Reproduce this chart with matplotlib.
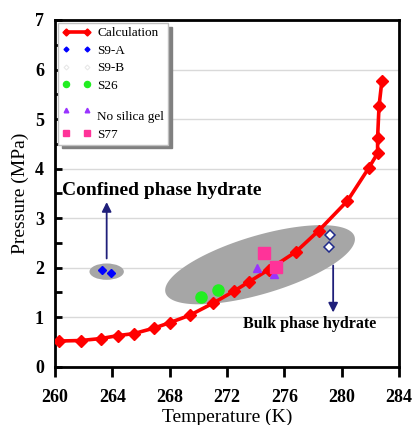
import numpy as np
import matplotlib
matplotlib.use('Agg')
import matplotlib.pyplot as plt
from matplotlib.patches import Ellipse, Polygon
from matplotlib.lines import Line2D

plt.rcParams['font.family'] = ['Liberation Serif', 'DejaVu Serif']

# calculated equilibrium curve
calc_T = [260.3, 261.8, 263.2, 264.4, 265.5, 266.9, 268.0, 269.4, 271.0, 272.5,
          273.5, 274.9, 276.8, 278.4, 280.4, 281.9, 282.5, 282.5, 282.6, 282.8]
calc_P = [0.52, 0.53, 0.57, 0.63, 0.67, 0.78, 0.89, 1.04, 1.28, 1.53,
          1.71, 1.96, 2.32, 2.75, 3.35, 4.02, 4.31, 4.62, 5.26, 5.77]

# experimental points
s9a_T = [263.3, 263.9]
s9a_P = [1.96, 1.90]
s9b_T = [279.2, 279.1]
s9b_P = [2.65, 2.41]
s26_T = [270.2, 271.4]
s26_P = [1.40, 1.55]
nsg_T = [274.1, 275.3]
nsg_P = [2.00, 1.88]
s77_T = [274.6, 275.4]
s77_P = [2.30, 2.02]

xticks = [260, 264, 268, 272, 276, 280, 284]
yticks = [0, 1, 2, 3, 4, 5, 6, 7]

fig = plt.figure(figsize=(4.14, 4.25), dpi=100)
ax = fig.add_axes([0.133, 0.137, 0.831, 0.816])

ax.set_xlim(260, 284)
ax.set_ylim(0, 7)

# grey regions behind the points
big = np.linspace(0, 2*np.pi, 200)
cT, cP = 274.3, 2.06
uT, uP = 6.6, 0.56
vT, vP = 0.50, -0.57
ell_pts = np.column_stack([cT + uT*np.cos(big) + vT*np.sin(big),
                           cP + uP*np.cos(big) + vP*np.sin(big)])
ax.add_patch(Polygon(ell_pts, closed=True, facecolor='#A6A6A6', edgecolor='none', zorder=2))
ax.add_patch(Ellipse((263.6, 1.92), 2.4, 0.33, facecolor='#A6A6A6', edgecolor='none', zorder=2))

ax.grid(True, axis='y', color='#D9D9D9', linewidth=1, zorder=0)
ax.set_axisbelow(True)

calc, = ax.plot(calc_T, calc_P, color='#FF0000', lw=2.6, marker='D', ms=6.5,
                label='Calculation', zorder=4)
a, = ax.plot(s9a_T, s9a_P, ls='none', marker='D', ms=4.5, color='#0000FF', label='S9-A', zorder=5)
ax.plot(s9b_T, s9b_P, ls='none', marker='D', ms=5.5, mfc='white', mec='#1F2A8A', mew=1.1, zorder=5)
g, = ax.plot(s26_T, s26_P, ls='none', marker='o', ms=8, color='#22EE22', label='S26', zorder=5)
t, = ax.plot(nsg_T, nsg_P, ls='none', marker='^', ms=6, color='#9933FF', label='\nNo silica gel', zorder=5)
s, = ax.plot(s77_T, s77_P, ls='none', marker='s', ms=9, color='#FF3399', label='S77', zorder=6)
b_proxy = Line2D([], [], ls='none', marker='D', ms=4.5, mfc='white', mec='#E8E8E8', mew=0.8, label='S9-B')

arrow_col = '#1F1F7A'
ax.annotate('', xy=(263.6, 3.38), xytext=(263.6, 2.13),
            arrowprops=dict(arrowstyle='-|>', color=arrow_col, lw=1.3, mutation_scale=14), zorder=7)
ax.annotate('', xy=(279.4, 1.04), xytext=(279.4, 2.1),
            arrowprops=dict(arrowstyle='-|>', color=arrow_col, lw=1.3, mutation_scale=14), zorder=7)

ax.text(260.5, 3.55, 'Confined phase hydrate', fontsize=14, fontweight='bold', va='center', ha='left')
ax.text(273.1, 0.86, 'Bulk phase hydrate', fontsize=11.5, fontweight='bold', va='center', ha='left')

leg = ax.legend(handles=[calc, a, b_proxy, g, t, s], loc='upper left', fontsize=9.5,
                markerscale=0.55, numpoints=2, handlelength=2.2, handletextpad=0.45,
                borderaxespad=0.25, borderpad=0.3, labelspacing=0.4,
                fancybox=False, edgecolor='#BFBFBF', framealpha=1,
                shadow={'color': '#808080', 'alpha': 1, 'ox': 2.5, 'oy': -2.5})
leg.get_frame().set_linewidth(1)
leg.set_zorder(10)

ax.set_xticks(xticks)
ax.set_yticks(yticks)
ax.set_yticks(np.arange(0.5, 7, 1), minor=True)
ax.tick_params(axis='x', direction='out', length=7, width=2, labelsize=13, pad=9)
ax.tick_params(axis='y', which='both', direction='in', length=5, width=2, labelsize=13, pad=8)
for lbl in ax.get_xticklabels() + ax.get_yticklabels():
    lbl.set_fontweight('bold')
for sp in ax.spines.values():
    sp.set_linewidth(2)
    sp.set_color('black')

ax.set_xlabel('Temperature (K)', fontsize=14, labelpad=2)
ax.set_ylabel('Pressure (MPa)', fontsize=14, labelpad=4)

fig.savefig('out.png', dpi=100)
